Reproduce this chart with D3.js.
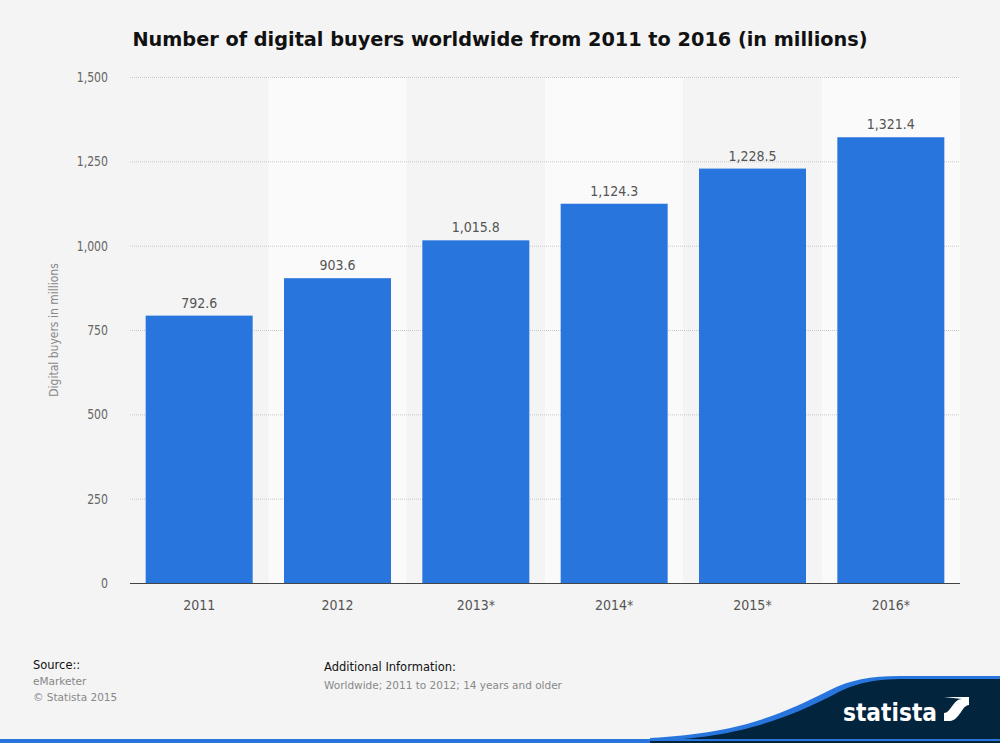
<!DOCTYPE html><html><head><meta charset="utf-8">
<script src="https://cdn.jsdelivr.net/npm/d3@7"></script>
<style>body{margin:0;background:#f4f4f4}svg{display:block}</style></head><body>
<svg id="c" width="1000" height="743"></svg>
<script>
const categories=["2011","2012","2013*","2014*","2015*","2016*"];
const values=[792.6,903.6,1015.8,1124.3,1228.5,1321.4];
const yTicks=[0,250,500,750,1000,1250,1500];
const svg=d3.select("#c");
const F="'DejaVu Sans Condensed','DejaVu Sans',sans-serif";
svg.append("rect").attr("width",1000).attr("height",743).attr("fill","#f4f4f4");
const L=130,R=960,T=77,B=583;
const x=d3.scaleBand().domain(categories).range([L,R]).paddingInner(0).paddingOuter(0);
const y=d3.scaleLinear().domain([0,1500]).range([B,T]);
svg.selectAll(".band").data(categories).join("rect").attr("x",d=>x(d)).attr("y",T).attr("width",x.bandwidth()).attr("height",B-T).attr("fill",(d,i)=>i%2?"#fafafa":"#f4f4f4");
svg.selectAll(".grid").data(yTicks.filter(t=>t>0)).join("line").attr("x1",L).attr("x2",R).attr("y1",d=>y(d)+0.5).attr("y2",d=>y(d)+0.5).attr("stroke","#c8c8c8").attr("stroke-dasharray","1,1");
svg.selectAll(".yl").data(yTicks).join("text").attr("x",108).attr("y",d=>y(d)+5).attr("text-anchor","end").attr("font-family",F).attr("font-size",13.5).attr("fill","#666").attr("transform",d=>`translate(108,0) scale(0.9,1) translate(-108,0)`).text(d=>d3.format(",")(d));
const bw=107;
svg.selectAll(".bar").data(values).join("rect").attr("x",(d,i)=>x(categories[i])+(x.bandwidth()-bw)/2).attr("width",bw).attr("y",d=>y(d)).attr("height",d=>B-y(d)).attr("fill","#2876dd");
svg.selectAll(".vl").data(values).join("text").attr("x",(d,i)=>x(categories[i])+x.bandwidth()/2).attr("y",d=>y(d)-8).attr("text-anchor","middle").attr("font-family",F).attr("font-size",14).attr("fill","#555").text(d=>d3.format(",.1f")(d));
svg.append("line").attr("x1",L).attr("x2",R).attr("y1",B+0.5).attr("y2",B+0.5).attr("stroke","#444");
svg.selectAll(".xl").data(categories).join("text").attr("x",d=>x(d)+x.bandwidth()/2).attr("y",610).attr("text-anchor","middle").attr("font-family",F).attr("font-size",14).attr("fill","#555").text(d=>d);
svg.append("text").attr("transform","translate(58,330) rotate(-90)").attr("text-anchor","middle").attr("font-family",F).attr("font-size",12).attr("fill","#888").text("Digital buyers in millions");
svg.append("text").attr("x",500).attr("y",46).attr("text-anchor","middle").attr("font-family","'DejaVu Sans',sans-serif").attr("font-weight","bold").attr("font-size",19.3).attr("fill","#111").text("Number of digital buyers worldwide from 2011 to 2016 (in millions)");
const f2="'DejaVu Sans',sans-serif";
svg.append("text").attr("x",33).attr("y",669).attr("font-family",f2).attr("font-size",11.5).attr("fill","#111").text("Source::");
svg.append("text").attr("x",33).attr("y",685).attr("font-family",f2).attr("font-size",10.5).attr("fill","#888").text("eMarketer");
svg.append("text").attr("x",33).attr("y",701).attr("font-family",f2).attr("font-size",10.5).attr("fill","#888").text("© Statista 2015");
svg.append("text").attr("x",324).attr("y",671).attr("font-family",f2).attr("font-size",11.5).attr("fill","#111").text("Additional Information:");
svg.append("text").attr("x",324).attr("y",689).attr("font-family",f2).attr("font-size",10.5).attr("fill","#888").text("Worldwide; 2011 to 2012; 14 years and older");
svg.append("path").attr("d","M650,743 L650,738 C740,733 780,715 830,690 C850,680 870,676 900,676 L1000,676 L1000,743 Z").attr("fill","#2876dd");
svg.append("path").attr("d","M650,743 L650,741 C740,738 790,717 835,694 C855,683 875,679 905,679 L1000,679 L1000,743 Z").attr("fill","#03243d");
svg.append("rect").attr("x",0).attr("y",739).attr("width",1000).attr("height",4).attr("fill","#2876dd");
svg.append("rect").attr("x",650).attr("y",741).attr("width",350).attr("height",2).attr("fill","#03243d");
svg.append("text").attr("x",843).attr("y",721).attr("font-family","'DejaVu Sans',sans-serif").attr("font-weight","bold").attr("font-size",25).attr("textLength",94).attr("lengthAdjust","spacingAndGlyphs").attr("fill","#fff").text("statista");
svg.append("path").attr("d","M944,697 L969,697 L969,705 C962,705 960,720 950,721 L944,721 L944,713 C951,713 953,699 962,699 Z").attr("fill","#fff");
</script></body></html>
